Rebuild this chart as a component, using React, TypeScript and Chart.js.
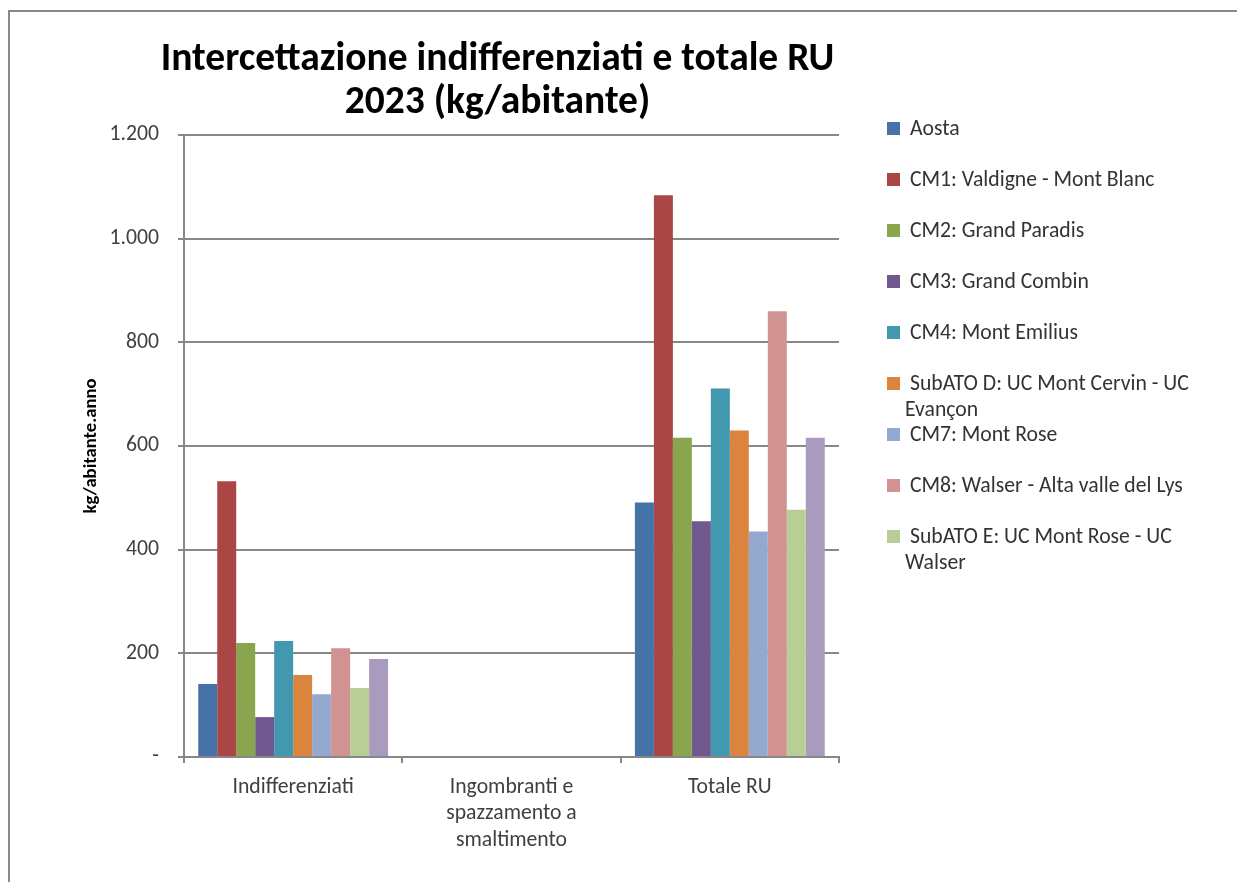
import React, { useEffect, useRef } from "react";
import { Chart, registerables } from "chart.js";

Chart.register(...registerables);

// ---- Data ----
const categories: (string | string[])[] = [
  "Indifferenziati",
  ["Ingombranti e", "spazzamento a", "smaltimento"],
  "Totale RU",
];

const seriesNames: string[] = [
  "Aosta",
  "CM1: Valdigne - Mont Blanc",
  "CM2: Grand Paradis",
  "CM3: Grand Combin",
  "CM4: Mont Emilius",
  "SubATO D: UC Mont Cervin - UC Evançon",
  "CM7: Mont Rose",
  "CM8: Walser - Alta valle del Lys",
  "SubATO E: UC Mont Rose - UC Walser",
  "Valle d'Aosta",
];

const aosta = [141, 0, 491];
const cm1 = [532, 0, 1084];
const cm2 = [220, 0, 616];
const cm3 = [77, 0, 455];
const cm4 = [224, 0, 711];
const subAtoD = [158, 0, 630];
const cm7 = [121, 0, 435];
const cm8 = [210, 0, 860];
const subAtoE = [133, 0, 477];
const valleAosta = [189, 0, 616];

const seriesValues: number[][] = [aosta, cm1, cm2, cm3, cm4, subAtoD, cm7, cm8, subAtoE, valleAosta];

const seriesColors: string[] = [
  "#4572A7",
  "#AA4643",
  "#89A54E",
  "#71588F",
  "#4198AF",
  "#DB843D",
  "#93A9CF",
  "#D19392",
  "#B9CD96",
  "#A99BBD",
];

// Number of series visible in the (cut-off) legend of the reference
const legendVisibleCount = 9;

const yMin = 0;
const yMax = 1200;
const yStep = 200;

const titleLines = ["Intercettazione indifferenziati e totale RU", "2023 (kg/abitante)"];
const yAxisTitle = "kg/abitante.anno";

const FONT = "Carlito, Lato, sans-serif";
const GRID = "#878787";

function fmtIt(v: number): string {
  if (v === 0) return "-";
  return String(v).replace(/\B(?=(\d{3})+(?!\d))/g, ".");
}

export default function App() {
  const ref = useRef<HTMLCanvasElement>(null);

  useEffect(() => {
    const canvas = ref.current;
    if (!canvas) return;
    const chart = new Chart(canvas, {
      type: "bar",
      data: {
        labels: categories as any,
        datasets: seriesValues.map((vals, i) => ({
          label: seriesNames[i],
          data: vals,
          backgroundColor: seriesColors[i],
          borderWidth: 0,
          categoryPercentage: 10 / 11.5,
          barPercentage: 1,
        })),
      },
      options: {
        animation: false,
        responsive: false,
        maintainAspectRatio: false,
        layout: { padding: { left: 80, top: 135, right: 398, bottom: 0 } },
        plugins: {
          legend: { display: false },
          title: { display: false },
          tooltip: { enabled: false },
        },
        scales: {
          x: {
            grid: {
              offset: true,
              drawOnChartArea: false,
              drawTicks: true,
              tickLength: 6,
              color: GRID,
              lineWidth: 2,
            },
            border: { display: true, color: GRID, width: 2 },
            ticks: {
              font: { family: FONT, size: 21.7, lineHeight: 1.22 },
              color: "#404040",
              padding: 11,
              maxRotation: 0,
              autoSkip: false,
            },
            afterFit: (s: any) => {
              s.height = 125;
            },
          },
          y: {
            min: yMin,
            max: yMax,
            ticks: {
              stepSize: yStep,
              callback: (v: any) => fmtIt(Number(v)),
              font: { family: FONT, size: 21.7 },
              color: "#404040",
              padding: 19,
            },
            grid: { color: GRID, lineWidth: 2, tickLength: 6 },
            border: { display: true, color: GRID, width: 2 },
            title: {
              display: true,
              text: yAxisTitle,
              font: { family: FONT, size: 18.7, weight: "bold" },
              color: "#000",
              padding: 0,
            },
            afterFit: (s: any) => {
              s.width = 104;
            },
          },
        },
      } as any,
    });
    return () => chart.destroy();
  }, []);

  return (
    <div
      style={{
        position: "fixed",
        left: 0,
        top: 0,
        width: 1237,
        height: 882,
        overflow: "hidden",
        background: "#fff",
      }}
    >
      <div
        style={{
          position: "absolute",
          left: 8,
          top: 10,
          width: 2000,
          height: 2000,
          border: "2px solid #8a8a8a",
        }}
      />
      <canvas
        ref={ref}
        width={1237}
        height={882}
        style={{ position: "absolute", left: 0, top: 0, display: "block" }}
      />
      <div
        style={{
          position: "absolute",
          left: 0,
          top: 35,
          width: 995,
          textAlign: "center",
          fontFamily: FONT,
          fontWeight: "bold",
          fontSize: 39.5,
          lineHeight: "43px",
          color: "#000",
          whiteSpace: "nowrap",
        }}
      >
        {titleLines.map((t, i) => (
          <div key={i}>{t}</div>
        ))}
      </div>
      <div style={{ position: "absolute", left: 887, top: 115 }}>
        {seriesNames.slice(0, legendVisibleCount).map((name, i) => (
          <div key={i} style={{ position: "relative", height: 51 }}>
            <div
              style={{
                position: "absolute",
                left: 0,
                top: 6.5,
                width: 13,
                height: 13,
                background: seriesColors[i],
              }}
            />
            <div
              style={{
                position: "absolute",
                left: 18,
                top: 0,
                width: 300,
                textIndent: 5,
                fontFamily: FONT,
                fontSize: 21.7,
                lineHeight: "26px",
                color: "#333",
                whiteSpace: "normal",
              }}
            >
              {name}
            </div>
          </div>
        ))}
      </div>
    </div>
  );
}
